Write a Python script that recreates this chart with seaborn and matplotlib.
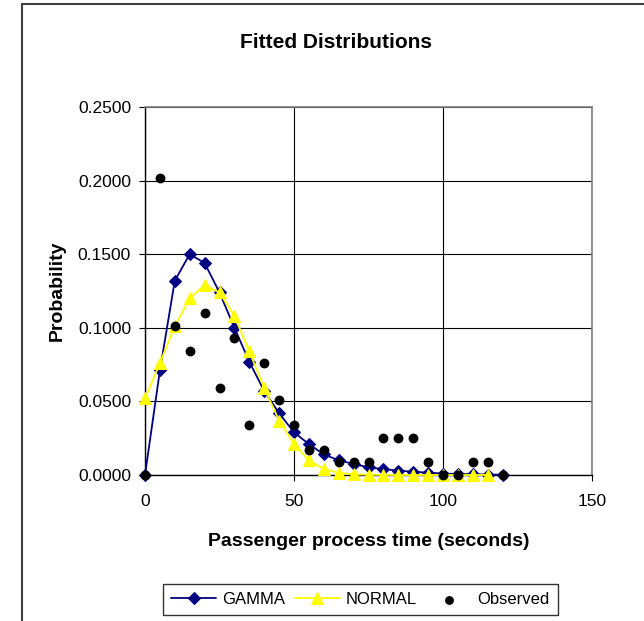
import matplotlib
matplotlib.use("Agg")
import matplotlib.pyplot as plt
from matplotlib.lines import Line2D
from matplotlib.ticker import FormatStrFormatter, MultipleLocator
import seaborn as sns
import numpy as np

# ---- data ----
x_time = [0, 5, 10, 15, 20, 25, 30, 35, 40, 45, 50, 55, 60, 65, 70, 75,
          80, 85, 90, 95, 100, 105, 110, 115, 120]
gamma = [0.0, 0.071, 0.132, 0.150, 0.144, 0.124, 0.100, 0.077, 0.057, 0.042,
         0.029, 0.021, 0.014, 0.010, 0.0075, 0.0052, 0.0040, 0.0030, 0.0022,
         0.0016, 0.0010, 0.0007, 0.0005, 0.0003, 0.0002]
x_normal = [0, 5, 10, 15, 20, 25, 30, 35, 40, 45, 50, 55, 60, 65, 70, 75,
            80, 85, 90, 95, 100, 105, 110, 115]
normal = [0.052, 0.076, 0.101, 0.120, 0.129, 0.124, 0.108, 0.084, 0.059, 0.037,
          0.021, 0.010, 0.004, 0.0015, 0.0005, 0.0002, 0.0001, 0.0, 0.0, 0.0,
          0.0, 0.0, 0.0, 0.0]
observed = [0.0, 0.202, 0.101, 0.084, 0.110, 0.059, 0.093, 0.034, 0.076, 0.051,
            0.034, 0.017, 0.017, 0.0085, 0.0085, 0.0085, 0.025, 0.025, 0.025,
            0.0085, 0.0, 0.0, 0.0085, 0.0085, 0.0]
x_ticks = [0, 50, 100, 150]
title = "Fitted Distributions"
xlabel = "Passenger process time (seconds)"
ylabel = "Probability"

# ---- style ----
sns.set_theme(style="white")
plt.rcParams["font.family"] = ["Liberation Sans", "DejaVu Sans"]

W, H = 644, 621
fig = plt.figure(figsize=(W / 100, H / 100), dpi=100)
fig.patch.set_facecolor("white")
ax = fig.add_axes([145 / W, 1 - 475 / H, (592 - 145) / W, (475 - 107) / H])

navy = "#000080"
yellow = "#FFFF00"

sns.lineplot(x=x_time, y=gamma, ax=ax, color=navy, marker="D", markersize=6.5,
             markeredgecolor=navy, markerfacecolor=navy, linewidth=1.3,
             label="GAMMA", clip_on=False, zorder=3)
sns.lineplot(x=x_normal, y=normal, ax=ax, color=yellow, marker="^", markersize=9,
             markeredgecolor=yellow, markerfacecolor=yellow, linewidth=1.3,
             label="NORMAL", clip_on=False, zorder=4)
sns.scatterplot(x=x_time, y=observed, ax=ax, color="black", s=50, marker="o",
                edgecolor="black", linewidth=0, label="Observed",
                clip_on=False, zorder=5)

ax.set_xlim(0, 150)
ax.set_ylim(0, 0.25)
ax.set_xticks(x_ticks)
ax.yaxis.set_major_locator(MultipleLocator(0.05))
ax.yaxis.set_major_formatter(FormatStrFormatter("%.4f"))

ax.grid(True, color="black", linewidth=0.8)
ax.set_axisbelow(True)
for side in ["top", "right"]:
    ax.spines[side].set_color("#808080")
    ax.spines[side].set_linewidth(1.2)
for side in ["left", "bottom"]:
    ax.spines[side].set_color("black")
    ax.spines[side].set_linewidth(1.0)

ax.tick_params(axis="both", which="major", direction="out", length=4,
               width=0.8, color="black", labelsize=12.5, labelcolor="black",
               left=True, bottom=True)
ax.tick_params(axis="y", pad=6)
ax.tick_params(axis="x", pad=10)

ax.set_xlabel(xlabel, fontsize=14, fontweight="bold", color="black")
ax.set_ylabel(ylabel, fontsize=14, fontweight="bold", color="black")
ax.xaxis.label.set_va("center")
ax.xaxis.set_label_coords(0.5, (475 - 542) / 368)
ax.yaxis.label.set_va("center")
ax.yaxis.label.set_ha("center")
ax.yaxis.set_label_coords((57 - 145) / 447, 0.5)

fig.text(336 / W, 1 - 43 / H, title, ha="center", va="center",
         fontsize=15, fontweight="bold", color="black")

handles, labels = ax.get_legend_handles_labels()
leg = ax.legend(handles, labels, ncol=3, loc="center",
                bbox_to_anchor=(360.5 / W, 1 - 599.5 / H),
                bbox_transform=fig.transFigure, frameon=True, fancybox=False,
                edgecolor="black", fontsize=12, handlelength=2.7,
                handletextpad=0.35, columnspacing=0.6, borderpad=0.5,
                markerscale=0.9)
leg.get_frame().set_linewidth(1.0)
for t in leg.get_texts():
    t.set_color("black")

# outer chart-area border (left and top visible)
fig.add_artist(Line2D([22 / W, 22 / W], [0, 1 - 4 / H], color="#404040",
                      linewidth=1.5, transform=fig.transFigure))
fig.add_artist(Line2D([22 / W, 1], [1 - 4 / H, 1 - 4 / H], color="#404040",
                      linewidth=1.5, transform=fig.transFigure))

fig.savefig("out.png", dpi=100, facecolor="white")
